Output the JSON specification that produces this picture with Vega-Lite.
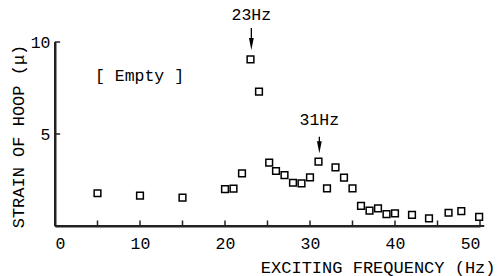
{
  "$schema": "https://vega.github.io/schema/vega-lite/v6.json",
  "width": 425,
  "height": 184,
  "autosize": {"type": "none"},
  "padding": {"left": 55, "top": 42, "right": 19, "bottom": 50},
  "background": "white",
  "config": {
    "view": {"stroke": null},
    "font": "Liberation Mono",
    "axis": {
      "grid": false,
      "domain": true,
      "domainColor": "#222222",
      "domainWidth": 2,
      "ticks": false,
      "tickSize": 0,
      "labelFont": "Liberation Mono",
      "labelFontSize": 16.5,
      "labelColor": "black",
      "titleFont": "Liberation Mono",
      "titleFontSize": 17,
      "titleFontWeight": "normal",
      "titleColor": "black"
    }
  },
  "datasets": {
    "pts": [
      {"freq": 5, "strain": 1.78},
      {"freq": 10, "strain": 1.65},
      {"freq": 15, "strain": 1.54},
      {"freq": 20, "strain": 2.0},
      {"freq": 21, "strain": 2.03},
      {"freq": 22, "strain": 2.86},
      {"freq": 23, "strain": 9.06},
      {"freq": 24, "strain": 7.3},
      {"freq": 25.2, "strain": 3.44},
      {"freq": 26, "strain": 2.99},
      {"freq": 27, "strain": 2.77},
      {"freq": 28, "strain": 2.35},
      {"freq": 29, "strain": 2.32},
      {"freq": 30, "strain": 2.64},
      {"freq": 31, "strain": 3.5},
      {"freq": 32, "strain": 2.05},
      {"freq": 33, "strain": 3.19},
      {"freq": 34, "strain": 2.63},
      {"freq": 35, "strain": 2.05},
      {"freq": 36, "strain": 1.09},
      {"freq": 37, "strain": 0.83},
      {"freq": 38, "strain": 0.96},
      {"freq": 39, "strain": 0.65},
      {"freq": 40, "strain": 0.69},
      {"freq": 42, "strain": 0.6},
      {"freq": 44, "strain": 0.42},
      {"freq": 46.3, "strain": 0.72},
      {"freq": 47.8, "strain": 0.81},
      {"freq": 49.9, "strain": 0.5}
    ],
    "notes": [
      {"freq": 23.1, "label": "23Hz", "ty": 11.47, "y1": 10.76, "head": 9.89},
      {"freq": 31.1, "label": "31Hz", "ty": 5.76, "y1": 4.85, "head": 4.28}
    ],
    "frame": [{"x0": 0, "x1": 50.5, "y0": 0, "y1": 10}],
    "xticks": [
      {"freq": 5, "lo": 0, "hi": 0.3}, {"freq": 10, "lo": 0, "hi": 0.3},
      {"freq": 15, "lo": 0, "hi": 0.3}, {"freq": 20, "lo": 0, "hi": 0.3},
      {"freq": 25, "lo": 0, "hi": 0.3}, {"freq": 30, "lo": 0, "hi": 0.3},
      {"freq": 35, "lo": 0, "hi": 0.3}, {"freq": 40, "lo": 0, "hi": 0.3},
      {"freq": 45, "lo": 0, "hi": 0.3}, {"freq": 50, "lo": 0, "hi": 0.3}
    ],
    "yticks": [{"strain": 5, "lo": 0, "hi": 0.6}, {"strain": 10, "lo": 0, "hi": 0.6}],
    "empty": [{"freq": 4.7, "strain": 8.15, "label": "[ Empty ]"}]
  },
  "layer": [
    {
      "data": {"name": "pts"},
      "mark": {"type": "point", "shape": "square", "filled": false, "color": "black", "strokeWidth": 1.5, "size": 45, "opacity": 1},
      "encoding": {
        "x": {
          "field": "freq", "type": "quantitative",
          "scale": {"domain": [0, 50], "nice": false, "zero": false},
          "axis": {
            "values": [0, 10, 20, 30, 40, 50],
            "labelPadding": 9,
            "title": "EXCITING FREQUENCY (Hz)",
            "titleAnchor": "end",
            "titleAlign": "right",
            "titleX": 440,
            "titleY": 41,
            "titleBaseline": "middle"
          }
        },
        "y": {
          "field": "strain", "type": "quantitative",
          "scale": {"domain": [0, 10], "nice": false},
          "axis": {
            "values": [5, 10],
            "labelPadding": 5,
            "title": "STRAIN OF HOOP (μ)",
            "titleX": -37,
            "titleY": 94,
            "titleAngle": -90,
            "titleAlign": "center",
            "titleBaseline": "middle",
            "titleAnchor": null
          }
        }
      }
    },
    {
      "data": {"name": "frame"},
      "mark": {"type": "rule", "color": "#222222", "strokeWidth": 2, "clip": false},
      "encoding": {
        "x": {"field": "x0", "type": "quantitative"},
        "x2": {"field": "x1"},
        "y": {"field": "y0", "type": "quantitative"}
      }
    },
    {
      "data": {"name": "frame"},
      "mark": {"type": "rule", "color": "#222222", "strokeWidth": 2, "clip": false},
      "encoding": {
        "x": {"field": "x0", "type": "quantitative"},
        "y": {"field": "y0", "type": "quantitative"},
        "y2": {"field": "y1"}
      }
    },
    {
      "data": {"name": "xticks"},
      "mark": {"type": "rule", "color": "#222222", "strokeWidth": 1.5, "clip": false},
      "encoding": {
        "x": {"field": "freq", "type": "quantitative"},
        "y": {"field": "lo", "type": "quantitative"},
        "y2": {"field": "hi"}
      }
    },
    {
      "data": {"name": "yticks"},
      "mark": {"type": "rule", "color": "#222222", "strokeWidth": 1.5, "clip": false},
      "encoding": {
        "y": {"field": "strain", "type": "quantitative"},
        "x": {"field": "lo", "type": "quantitative"},
        "x2": {"field": "hi"}
      }
    },
    {
      "data": {"name": "notes"},
      "mark": {"type": "rule", "color": "black", "strokeWidth": 1.3, "clip": false},
      "encoding": {
        "x": {"field": "freq", "type": "quantitative"},
        "y": {"field": "y1", "type": "quantitative"},
        "y2": {"field": "head"}
      }
    },
    {
      "data": {"name": "notes"},
      "mark": {"type": "point", "shape": "M-0.4,-1L0.4,-1L0,1Z", "filled": true, "color": "black", "size": 144, "opacity": 1, "clip": false},
      "encoding": {
        "x": {"field": "freq", "type": "quantitative"},
        "y": {"field": "head", "type": "quantitative"}
      }
    },
    {
      "data": {"name": "notes"},
      "mark": {"type": "text", "fontSize": 16.5, "font": "Liberation Mono", "color": "black", "align": "center", "baseline": "middle", "clip": false},
      "encoding": {
        "x": {"field": "freq", "type": "quantitative"},
        "y": {"field": "ty", "type": "quantitative"},
        "text": {"field": "label"}
      }
    },
    {
      "data": {"name": "empty"},
      "mark": {"type": "text", "fontSize": 16.5, "font": "Liberation Mono", "color": "black", "align": "left", "baseline": "middle"},
      "encoding": {
        "x": {"field": "freq", "type": "quantitative"},
        "y": {"field": "strain", "type": "quantitative"},
        "text": {"field": "label"}
      }
    }
  ]
}
